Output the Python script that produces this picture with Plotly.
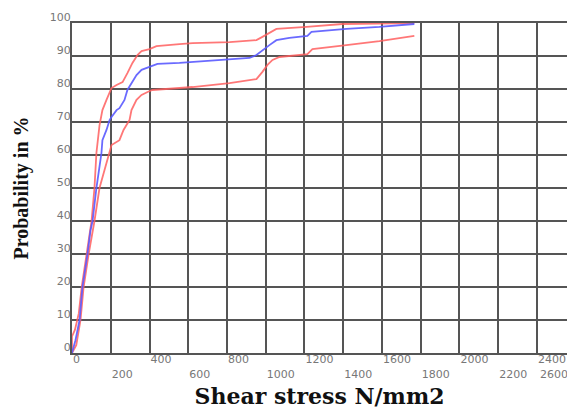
import plotly.graph_objects as go

# --- data ---
stress_mid = [0, 18, 39, 54, 80, 95, 106, 126, 152, 157, 178, 194, 204, 230, 245, 271, 286, 307, 333, 359,
              400, 441, 555, 916, 952, 983, 1019, 1055, 1122, 1215, 1236, 1416, 1587, 1767]
prob_mid = [0, 3.9, 10, 20, 30, 37, 40, 50, 60.6, 64.5, 67.6, 70.6, 71.5, 73.6, 74.2, 76.7, 79.7, 81.8, 84.2, 85.8,
            86.7, 87.6, 87.9, 89.4, 90.3, 91.8, 93.3, 94.8, 95.5, 96.1, 97.3, 98.2, 98.8, 99.7]

stress_upper = [0, 0, 15, 35, 50, 75, 90, 101, 116, 126, 142, 147, 157, 178, 194, 204, 230, 261, 286, 312, 338,
                359, 400, 436, 555, 622, 813, 952, 983, 1019, 1055, 1210, 1396, 1767]
prob_upper = [0, 5, 7, 12, 20, 30, 37, 40, 50, 60.6, 69, 70.6, 73.6, 76.7, 79.1, 80.3, 81.2, 82.1, 84.8, 87.9, 90.3,
              91.5, 92.1, 93, 93.6, 93.9, 94.2, 94.8, 95.8, 97, 98.2, 98.8, 99.7, 100]

stress_lower = [0, 22, 44, 60, 86, 101, 116, 142, 168, 194, 204, 245, 266, 297, 307, 333, 359, 390, 415,
                555, 622, 813, 952, 983, 1009, 1035, 1071, 1215, 1241, 1416, 1587, 1767]
prob_lower = [0, 2.4, 10, 20, 30, 35, 40, 50, 55.5, 60.6, 63, 64.5, 67.6, 70.6, 73.6, 76.7, 78.2, 79.1, 79.7,
              80.3, 80.6, 81.8, 83, 85.2, 87.3, 88.8, 89.7, 90.6, 92.1, 93.3, 94.5, 96.1]

x_ticks = [0, 200, 400, 600, 800, 1000, 1200, 1400, 1600, 1800, 2000, 2200, 2400]
x_tick_labels = [str(v) for v in x_ticks]
x_extra_label = "2600"
y_ticks = [0, 10, 20, 30, 40, 50, 60, 70, 80, 90, 100]

x_title = "Shear stress N/mm2"
y_title = "Probability in %"

# --- styles ---
RED = "rgba(255,95,95,0.85)"
BLUE = "rgba(90,90,255,0.9)"
GRID = "#555555"
TICKC = "#777777"

fig = go.Figure()
fig.add_trace(go.Scatter(x=stress_upper, y=prob_upper, mode="lines",
                         line=dict(color=RED, width=1.8), showlegend=False))
fig.add_trace(go.Scatter(x=stress_lower, y=prob_lower, mode="lines",
                         line=dict(color=RED, width=1.8), showlegend=False))
fig.add_trace(go.Scatter(x=stress_mid, y=prob_mid, mode="lines",
                         line=dict(color=BLUE, width=1.8), showlegend=False))

# staggered labels: every other one on a second line
ticktext = [t if i % 2 == 0 else "<br>" + t for i, t in enumerate(x_tick_labels)]

fig.update_layout(
    width=567, height=409,
    margin=dict(l=72, r=0, t=23, b=56),
    paper_bgcolor="white", plot_bgcolor="white",
    xaxis=dict(
        range=[0, 2555], tickvals=x_ticks, ticktext=ticktext,
        ticklabelposition="outside right", ticks="", ticklabelstandoff=-5,
        showgrid=True, gridcolor=GRID, gridwidth=2,
        showline=True, linecolor=GRID, linewidth=2, mirror=True,
        zeroline=False,
        tickfont=dict(family="DejaVu Sans", size=11, color=TICKC),
        title=dict(text="<b>" + x_title + "</b>", standoff=13,
                   font=dict(family="DejaVu Serif", size=22, color="#111")),
    ),
    yaxis=dict(
        range=[0, 100], tickvals=y_ticks, ticks="",
        showgrid=True, gridcolor=GRID, gridwidth=2,
        showline=True, linecolor=GRID, linewidth=2,
        zeroline=False, ticklabelshift=-6, ticklabelstandoff=-3,
        tickfont=dict(family="DejaVu Sans", size=11, color=TICKC),
        title=dict(text="<b>" + y_title + "</b>", standoff=16,
                   font=dict(family="Liberation Serif", size=20, color="#111")),
    ),
)

fig.add_annotation(x=x_ticks[-1], xref="x", y=0, yref="paper", text=x_extra_label,
                   xanchor="left", yanchor="top", yshift=-13, xshift=1, showarrow=False,
                   font=dict(family="DejaVu Sans", size=11, color=TICKC))

fig.write_html("out.html")
